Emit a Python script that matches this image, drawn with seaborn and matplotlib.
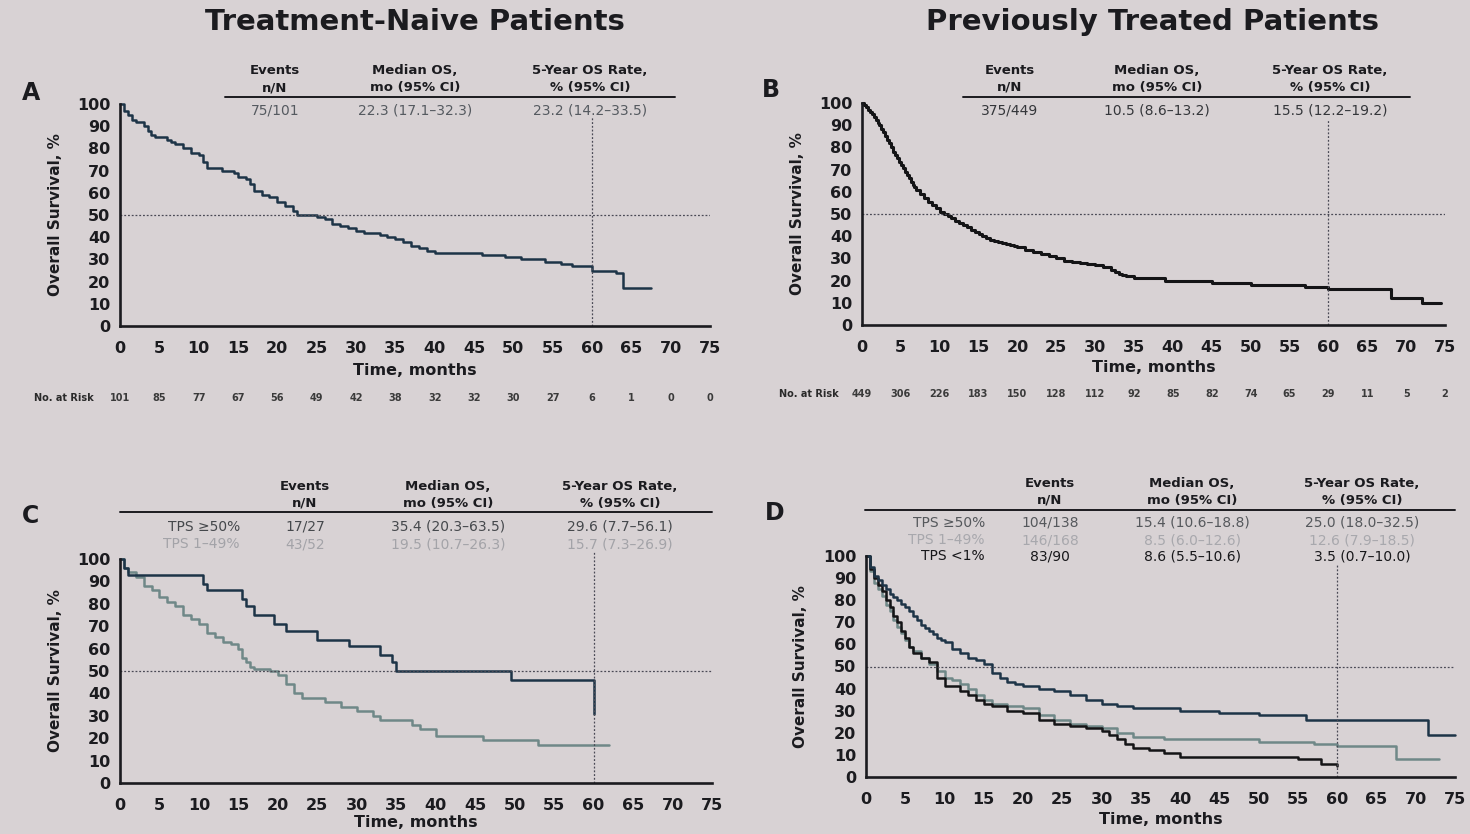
import matplotlib
matplotlib.use("Agg")
import matplotlib.pyplot as plt
import seaborn as sns
import pandas as pd

# ---------------- data ----------------
titles = ["Treatment-Naive Patients", "Previously Treated Patients"]
panel_letters = ["A", "B", "C", "D"]
header_top = ["Events", "Median OS,", "5-Year OS Rate,"]
header_bot = ["n/N", "mo (95% CI)", "% (95% CI)"]

ticks_x = list(range(0, 80, 5))
ticks_y = list(range(0, 110, 10))

# Panel A
a_t = [0, 0.5, 1, 1.5, 2, 3, 3.5, 4, 4.5, 6, 6.5, 7, 8, 9, 10, 10.5, 11, 13, 14.5, 15, 16, 16.5, 17, 18, 19, 20,
       21, 22, 22.5, 25, 26, 27, 28, 29, 30, 31, 33, 34, 35, 36, 37, 38, 39, 40, 46, 49, 51, 54, 56, 57.5, 60, 63,
       64, 67.5]
a_s = [100, 97, 95, 93, 92, 90, 88, 86, 85, 84, 83, 82, 80, 78, 77, 74, 71, 70, 69, 67, 66, 64, 61, 59, 58, 56,
       54, 52, 50, 49, 48, 46, 45, 44, 43, 42, 41, 40, 39, 38, 36, 35, 34, 33, 32, 31, 30, 29, 28, 27, 25, 24,
       17, 17]
a_rows = [["", "75/101", "22.3 (17.1–32.3)", "23.2 (14.2–33.5)"]]
a_risk = [101, 85, 77, 67, 56, 49, 42, 38, 32, 32, 30, 27, 6, 1, 0, 0]

# Panel B
b_t = [0, 0.25, 0.5, 0.75, 1, 1.25, 1.5, 1.75, 2, 2.25, 2.5, 2.75, 3, 3.25, 3.5, 3.75, 4, 4.25, 4.5, 4.75, 5,
       5.25, 5.5, 5.75, 6, 6.25, 6.5, 6.75, 7, 7.5, 8, 8.5, 9, 9.5, 10, 10.5, 11, 11.5, 12, 12.5, 13, 13.5, 14,
       14.5, 15, 15.5, 16, 16.5, 17, 17.5, 18, 18.5, 19, 19.5, 20, 21, 22, 23, 24, 25, 26, 27, 28, 29, 30, 31, 32,
       32.5, 33, 33.5, 34, 35, 38, 39, 40, 45, 50, 55, 57, 60, 67.5, 68, 71.5, 72, 74.5]
b_s = [100, 99, 98, 97, 96, 95, 93.5, 92.5, 91, 90, 88.5, 87, 85, 83.5, 82, 80, 78, 76.5, 75, 73.5, 72,
       70.5, 69, 67.5, 66, 64.5, 63, 62, 61, 59, 57, 55.5, 54, 52.5, 51, 50, 49, 48, 47, 46, 45, 44, 43,
       42, 41, 40, 39, 38.5, 38, 37.5, 37, 36.5, 36, 35.5, 35, 34, 33, 32, 31, 30, 29, 28.5, 28, 27.5, 27, 26, 25,
       24, 23, 22.5, 22, 21, 21, 20, 20, 19, 18, 18, 17, 16, 16, 12, 12, 10, 10]
b_rows = [["", "375/449", "10.5 (8.6–13.2)", "15.5 (12.2–19.2)"]]
b_risk = [449, 306, 226, 183, 150, 128, 112, 92, 85, 82, 74, 65, 29, 11, 5, 2]

# Panel C
c1_t = [0, 0.5, 1, 10, 10.5, 11, 15, 15.5, 16, 17, 19, 19.5, 21, 25, 29, 33, 34.5, 35, 49.5, 60, 60]
c1_s = [100, 96, 93, 93, 89, 86, 86, 82, 79, 75, 75, 71, 68, 64, 61, 57, 54, 50, 46, 46, 31]
c2_t = [0, 0.5, 1, 2, 3, 4, 5, 6, 7, 8, 9, 10, 11, 12, 13, 14, 15, 15.5, 16, 16.5, 17, 19, 20, 21, 22, 23, 26,
        28, 30, 32, 33, 37, 38, 40, 46, 53, 62]
c2_s = [100, 96, 94, 92, 88, 86, 83, 81, 79, 75, 73, 71, 67, 65, 63, 62, 60, 56, 54, 52, 51, 50, 48, 44, 40, 38,
        36, 34, 32, 30, 28, 26, 24, 21, 19, 17, 17]
c_rows = [["TPS ≥50%", "17/27", "35.4 (20.3–63.5)", "29.6 (7.7–56.1)"],
          ["TPS 1–49%", "43/52", "19.5 (10.7–26.3)", "15.7 (7.3–26.9)"]]

# Panel D
d1_t = [0, 0.5, 1, 1.5, 2, 2.5, 3, 3.5, 4, 4.5, 5, 5.5, 6, 6.5, 7, 7.5, 8, 8.5, 9, 9.5, 10, 11, 12, 13, 14, 15,
        16, 17, 18, 19, 20, 22, 24, 26, 28, 30, 32, 34, 40, 45, 50, 56, 71.5, 75]
d1_s = [100, 95, 91, 89, 87, 85, 83, 81.5, 80, 78.5, 77, 75, 73, 71, 69, 67.5, 66, 64.5, 63, 62, 61, 58, 56, 54,
        53, 51, 47, 45, 43, 42, 41, 40, 39, 37, 35, 33, 32, 31, 30, 29, 28, 26, 19, 19]
d2_t = [0, 0.5, 1, 1.5, 2, 2.5, 3, 3.5, 4, 4.5, 5, 5.5, 6, 7, 8, 9, 10, 11, 12, 13, 14, 15, 16, 18, 20, 22, 24,
        26, 28, 30, 32, 34, 38, 50, 57, 60, 67.5, 73]
d2_s = [100, 93, 88, 85, 82, 78, 75, 71, 68, 65, 62, 59, 57, 54, 51, 48, 45, 44, 42, 40, 37, 35, 33, 32, 31, 28,
        26, 24, 23, 22, 20, 18, 17, 16, 15, 14, 8, 8]
d3_t = [0, 0.5, 1, 1.5, 2, 2.5, 3, 3.5, 4, 4.5, 5, 5.5, 6, 7, 8, 9, 10, 12, 13, 14, 15, 16, 18, 20, 22, 24, 26,
        28, 30, 31, 32, 33, 34, 36, 38, 40, 53, 55, 58, 60]
d3_s = [100, 94, 90, 87, 84, 80, 77, 73, 70, 66, 63, 59, 56, 54, 52, 45, 41, 39, 37, 35, 33, 32, 30, 29, 26, 24,
        23, 22, 21, 19, 17, 15, 13, 12, 11, 9, 9, 8, 6, 5]
d_rows = [["TPS ≥50%", "104/138", "15.4 (10.6–18.8)", "25.0 (18.0–32.5)"],
          ["TPS 1–49%", "146/168", "8.5 (6.0–12.6)", "12.6 (7.9–18.5)"],
          ["TPS <1%", "83/90", "8.6 (5.5–10.6)", "3.5 (0.7–10.0)"]]

# ---------------- style ----------------
sns.set_theme(style="white")
plt.rcParams["font.family"] = ["DejaVu Sans"]
BG = "#d8d2d4"
INK = "#1b1b1f"
W, H = 1470, 834

fig = plt.figure(figsize=(14.7, 8.34), dpi=100, facecolor=BG)


def fx(x):
    return x / W


def fy(y):
    return 1 - y / H


def make_ax(l, r, top, bot):
    ax = fig.add_axes([fx(l), fy(bot), fx(r) - fx(l), fy(top) - fy(bot)])
    ax.set_facecolor("none")
    return ax


def curve(ax, t, s, color, lw=1.8):
    df = pd.DataFrame({"t": t, "s": s})
    sns.lineplot(data=df, x="t", y="s", ax=ax, drawstyle="steps-post", color=color, lw=lw,
                 estimator=None, sort=False, clip_on=False)


def style_ax(ax, vline_top, xlab_y, ylab_x):
    ax.set_xlim(0, 75)
    ax.set_ylim(0, 100)
    ax.set_xticks(ticks_x)
    ax.set_yticks(ticks_y)
    for sp in ["top", "right"]:
        ax.spines[sp].set_visible(False)
    for sp in ["left", "bottom"]:
        ax.spines[sp].set_color(INK)
        ax.spines[sp].set_linewidth(1.9)
    ax.tick_params(axis="both", direction="out", length=5, width=1.7, color=INK,
                   labelsize=11.5, labelcolor=INK)
    ax.tick_params(axis="x", pad=6)
    ax.tick_params(axis="y", pad=2)
    for lab in ax.get_xticklabels() + ax.get_yticklabels():
        lab.set_fontweight("bold")
    ax.axhline(50, color="#4a4a55", lw=0.9, ls=(0, (1.5, 1.5)), xmin=0, xmax=1)
    ax.axvline(60, color="#4a4a55", lw=0.9, ls=(0, (1.5, 1.5)), ymin=0, ymax=vline_top, clip_on=False)
    ax.set_xlabel("Time, months", fontsize=11.5, fontweight="bold", color=INK)
    ax.set_ylabel("Overall Survival, %", fontsize=11, fontweight="bold", color=INK)
    ax.xaxis.set_label_coords(0.5, xlab_y)
    ax.yaxis.set_label_coords(ylab_x, 0.5)


def table(cols_x, hy1, hy2, rule_y, rule_x0, rule_x1, rows, row_ys, label_x, row_colors):
    for cx, t1, t2 in zip(cols_x, header_top, header_bot):
        fig.text(fx(cx), fy(hy1), t1, ha="center", va="center", fontsize=9.5, fontweight="bold", color=INK)
        fig.text(fx(cx), fy(hy2), t2, ha="center", va="center", fontsize=9.5, fontweight="bold", color=INK)
    fig.add_artist(plt.Line2D([fx(rule_x0), fx(rule_x1)], [fy(rule_y), fy(rule_y)], color=INK, lw=1.4))
    for row, ry, col in zip(rows, row_ys, row_colors):
        if row[0]:
            fig.text(fx(label_x), fy(ry), row[0], ha="right", va="center", fontsize=10, color=col)
        for cx, v in zip(cols_x, row[1:]):
            fig.text(fx(cx), fy(ry), v, ha="center", va="center", fontsize=10, color=col)


def risk(ax, counts, y_ax, label_x):
    tr = ax.get_xaxis_transform()
    ax.text(label_x, y_ax, "No. at Risk", transform=tr, ha="right", va="center", fontsize=7,
            fontweight="bold", color="#2a2a2a")
    for xv, n in zip(ticks_x, counts):
        ax.text(xv, y_ax, str(n), transform=tr, ha="center", va="center", fontsize=7,
                fontweight="bold", color="#3a3a3a")


NAVY = "#1d3447"
TEAL = "#6f8888"
BLACK = "#141416"

# Titles
fig.text(fx(415), fy(22), titles[0], ha="center", va="center", fontsize=21, fontweight="bold", color=INK)
fig.text(fx(1152), fy(22), titles[1], ha="center", va="center", fontsize=21, fontweight="bold", color=INK)

# Panel A
axA = make_ax(120, 710, 104, 326)
curve(axA, a_t, a_s, NAVY)
style_ax(axA, 0.94, -0.165, -0.097)
risk(axA, a_risk, -0.324, -3.4)
table([275, 415, 590], 71, 88, 97, 225, 675, a_rows, [111], 0, ["#555a60"])
fig.text(fx(31), fy(93), panel_letters[0], ha="center", va="center", fontsize=17, fontweight="bold", color=INK)

# Panel B
axB = make_ax(862, 1445, 103, 325)
curve(axB, b_t, b_s, BLACK, lw=2.2)
style_ax(axB, 0.93, -0.158, -0.098)
risk(axB, b_risk, -0.311, -3.0)
table([1010, 1157, 1330], 70, 87, 97, 963, 1410, b_rows, [110], 0, ["#34363a"])
fig.text(fx(771), fy(90), panel_letters[1], ha="center", va="center", fontsize=17, fontweight="bold", color=INK)

# Panel C
axC = make_ax(120, 712, 559, 783)
curve(axC, c2_t, c2_s, TEAL)
curve(axC, c1_t, c1_s, NAVY)
style_ax(axC, 1.03, -0.145, -0.097)
table([305, 448, 620], 487, 503, 512, 120, 712, c_rows, [527, 544], 240, ["#45484c", "#a3a3a8"])
fig.text(fx(31), fy(516), panel_letters[2], ha="center", va="center", fontsize=17, fontweight="bold", color=INK)

# Panel D
axD = make_ax(866, 1455, 556, 777)
curve(axD, d2_t, d2_s, TEAL)
curve(axD, d3_t, d3_s, BLACK)
curve(axD, d1_t, d1_s, NAVY)
style_ax(axD, 0.96, -0.16, -0.099)
table([1050, 1192, 1362], 484, 500, 510, 865, 1455, d_rows, [523, 540, 556], 985,
      ["#55585c", "#a8a8ad", "#17171a"])
fig.text(fx(775), fy(513), panel_letters[3], ha="center", va="center", fontsize=17, fontweight="bold", color=INK)

fig.savefig("out.png", dpi=100, facecolor=BG)
